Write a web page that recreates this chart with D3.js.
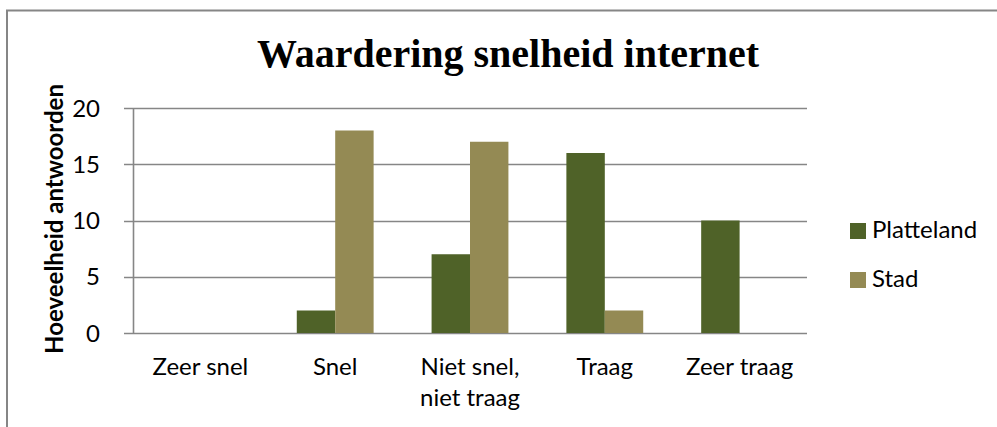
<!DOCTYPE html>
<html>
<head>
<meta charset="utf-8">
<script src="https://cdn.jsdelivr.net/npm/d3@7"></script>
<style>
  html, body { margin: 0; padding: 0; background: #fff; }
  svg { display: block; }
  .lbl { font-family: Lato, "Open Sans", sans-serif; font-size: 24px; fill: #000; }
</style>
</head>
<body>
<div id="chart"></div>
<script>
let categories = ['Zeer snel', 'Snel', 'Niet snel, niet traag', 'Traag', 'Zeer traag'];
let categoryLines = [['Zeer snel'], ['Snel'], ['Niet snel,', 'niet traag'], ['Traag'], ['Zeer traag']];
let seriesNames = ['Platteland', 'Stad'];
let platteland = [0, 2, 7, 16, 10];
let stad = [0, 18, 17, 2, 0];
let yTicks = [0, 5, 10, 15, 20];
let colors = ['#4f6228', '#948a54'];

var width = 997,
    height = 427;

var plot = { left: 133, right: 807, top: 108, bottom: 333 };

var svg = d3
    .select('#chart')
    .append('svg')
    .attr('width', width)
    .attr('height', height);

// chart frame (runs off the right and bottom edge)
svg
    .append('rect')
    .attr('x', 7)
    .attr('y', 10.5)
    .attr('width', 1100)
    .attr('height', 600)
    .attr('fill', 'none')
    .attr('stroke', '#868686')
    .attr('stroke-width', 2);

svg
    .append('text')
    .attr('x', 508)
    .attr('y', 67)
    .attr('text-anchor', 'middle')
    .style('font-family', '"Liberation Serif", serif')
    .style('font-weight', 'bold')
    .style('font-size', '40px')
    .text('Waardering snelheid internet');

var x0 = d3.scaleBand()
    .domain(categories)
    .range([plot.left, plot.right])
    .paddingInner(0.43)
    .paddingOuter(0.215);

var x1 = d3.scaleBand()
    .domain(seriesNames)
    .range([0, x0.bandwidth()]);

var y = d3.scaleLinear()
    .domain([0, 20])
    .range([plot.bottom, plot.top]);

// gridlines, with the little outside tick
svg
    .append('g')
    .selectAll('line')
    .data(yTicks)
    .enter()
    .append('line')
    .attr('x1', plot.left - 9)
    .attr('x2', plot.right)
    .attr('y1', function(d) { return Math.round(y(d)) + 0.5; })
    .attr('y2', function(d) { return Math.round(y(d)) + 0.5; })
    .attr('stroke', '#868686')
    .attr('stroke-width', 1.6);

// y axis line
svg
    .append('line')
    .attr('x1', plot.left + 0.5)
    .attr('x2', plot.left + 0.5)
    .attr('y1', y(20))
    .attr('y2', y(0))
    .attr('stroke', '#868686')
    .attr('stroke-width', 1.6);

var yAxis = svg
    .append('g')
    .attr('transform', 'translate(' + plot.left + ',0)')
    .call(d3.axisLeft(y).tickValues(yTicks).tickSize(0).tickPadding(33));
yAxis.select('.domain').remove();
yAxis.selectAll('text')
    .attr('class', 'lbl')
    .attr('dy', '0.34em')
    .style('font-size', null)
    .style('font-family', null);

var data = categories.map(function(c, i) {
    return { cat: c, values: [platteland[i], stad[i]] };
});

var groups = svg
    .append('g')
    .selectAll('g')
    .data(data)
    .enter()
    .append('g')
    .attr('transform', function(d) { return 'translate(' + x0(d.cat) + ',0)'; });

groups
    .selectAll('rect')
    .data(function(d) {
        return d.values.map(function(v, i) { return { key: seriesNames[i], value: v, i: i }; });
    })
    .enter()
    .append('rect')
    .attr('x', function(d) { return x1(d.key); })
    .attr('width', x1.bandwidth())
    .attr('y', function(d) { return y(d.value); })
    .attr('height', function(d) { return y(0) - y(d.value); })
    .attr('fill', function(d) { return colors[d.i]; });

// category labels
var xAxis = svg
    .append('g')
    .attr('transform', 'translate(0,' + plot.bottom + ')')
    .call(d3.axisBottom(x0).tickSize(0).tickFormat(''));
xAxis.select('.domain').remove();
xAxis.selectAll('.tick').each(function(d, i) {
    var t = d3.select(this).append('text')
        .attr('class', 'lbl')
        .attr('text-anchor', 'middle')
        .attr('y', 42);
    categoryLines[i].forEach(function(line, j) {
        t.append('tspan')
            .attr('x', 0)
            .attr('dy', j === 0 ? 0 : 31)
            .text(line);
    });
});

// y axis title
svg
    .append('text')
    .attr('class', 'lbl')
    .attr('transform', 'translate(63,' + 219 + ') rotate(-90)')
    .attr('text-anchor', 'middle')
    .style('font-weight', 'bold')
    .text('Hoeveelheid antwoorden');

// legend
var legend = svg
    .append('g')
    .selectAll('g')
    .data(seriesNames)
    .enter()
    .append('g')
    .attr('transform', function(d, i) { return 'translate(850,' + (223 + i * 49) + ')'; });

legend
    .append('rect')
    .attr('width', 16)
    .attr('height', 16)
    .attr('fill', function(d, i) { return colors[i]; });

legend
    .append('text')
    .attr('class', 'lbl')
    .attr('x', 22)
    .attr('y', 15)
    .text(function(d) { return d; });
</script>
</body>
</html>
